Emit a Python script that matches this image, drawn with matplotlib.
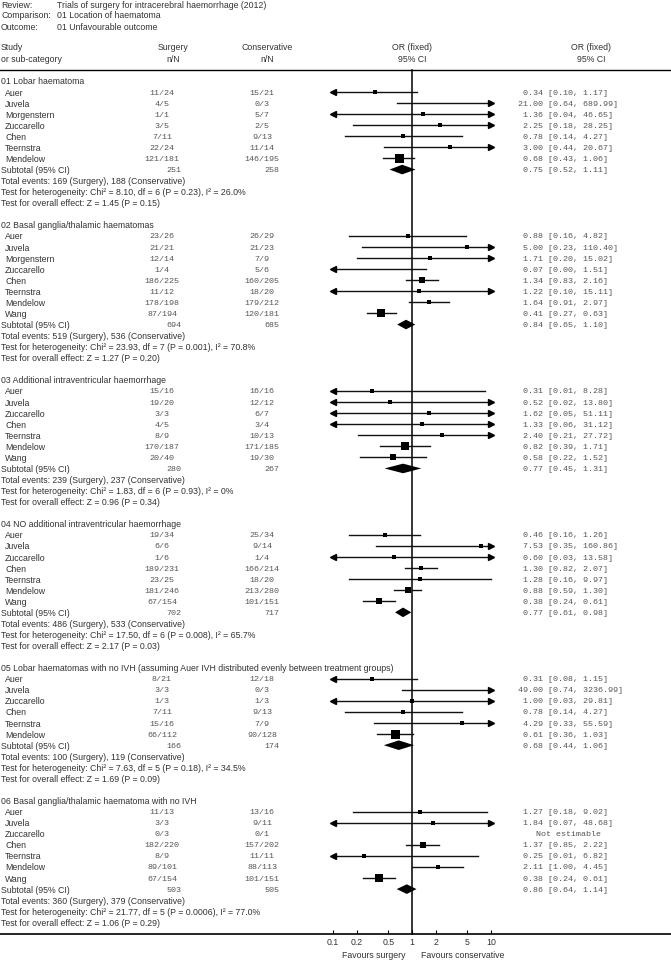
import numpy as np
import matplotlib.pyplot as plt
from matplotlib.patches import Polygon

# ---- data ----
group_titles = [
    "01 Lobar haematoma",
    "02 Basal ganglia/thalamic haematomas",
    "03 Additional intraventricular haemorrhage",
    "04 NO additional intraventricular haemorrhage",
    "05 Lobar haematomas with no IVH (assuming Auer IVH distributed evenly between treatment groups)",
    "06 Basal ganglia/thalamic haematoma with no IVH",
]

studies = [
    ["Auer", "Juvela", "Morgenstern", "Zuccarello", "Chen", "Teernstra", "Mendelow"],
    ["Auer", "Juvela", "Morgenstern", "Zuccarello", "Chen", "Teernstra", "Mendelow", "Wang"],
    ["Auer", "Juvela", "Zuccarello", "Chen", "Teernstra", "Mendelow", "Wang"],
    ["Auer", "Juvela", "Zuccarello", "Chen", "Teernstra", "Mendelow", "Wang"],
    ["Auer", "Juvela", "Zuccarello", "Chen", "Teernstra", "Mendelow"],
    ["Auer", "Juvela", "Zuccarello", "Chen", "Teernstra", "Mendelow", "Wang"],
]

surg_events = [
    [11, 4, 1, 3, 7, 22, 121],
    [23, 21, 12, 1, 186, 11, 178, 87],
    [15, 19, 3, 4, 8, 170, 20],
    [19, 6, 1, 189, 23, 181, 67],
    [8, 3, 1, 7, 15, 66],
    [11, 3, 0, 182, 8, 89, 67],
]
surg_total = [
    [24, 5, 1, 5, 11, 24, 181],
    [26, 21, 14, 4, 225, 12, 198, 194],
    [16, 20, 3, 5, 9, 187, 40],
    [34, 6, 6, 231, 25, 246, 154],
    [21, 3, 3, 11, 16, 112],
    [13, 3, 3, 220, 9, 101, 154],
]
cons_events = [
    [15, 0, 5, 2, 9, 11, 146],
    [26, 21, 7, 5, 160, 18, 179, 120],
    [16, 12, 6, 3, 10, 171, 19],
    [25, 9, 1, 166, 18, 213, 101],
    [12, 0, 1, 9, 7, 90],
    [13, 9, 0, 157, 11, 88, 101],
]
cons_total = [
    [21, 3, 7, 5, 13, 14, 195],
    [29, 23, 9, 6, 205, 20, 212, 181],
    [16, 12, 7, 4, 13, 185, 30],
    [34, 14, 4, 214, 20, 280, 151],
    [18, 3, 3, 13, 9, 128],
    [16, 11, 1, 202, 11, 113, 151],
]

odds = [
    [0.34, 21.00, 1.36, 2.25, 0.78, 3.00, 0.68],
    [0.88, 5.00, 1.71, 0.07, 1.34, 1.22, 1.64, 0.41],
    [0.31, 0.52, 1.62, 1.33, 2.40, 0.82, 0.58],
    [0.46, 7.53, 0.60, 1.30, 1.28, 0.88, 0.38],
    [0.31, 49.00, 1.00, 0.78, 4.29, 0.61],
    [1.27, 1.84, None, 1.37, 0.25, 2.11, 0.38],
]
ci_low = [
    [0.10, 0.64, 0.04, 0.18, 0.14, 0.44, 0.43],
    [0.16, 0.23, 0.20, 0.00, 0.83, 0.10, 0.91, 0.27],
    [0.01, 0.02, 0.05, 0.06, 0.21, 0.39, 0.22],
    [0.16, 0.35, 0.03, 0.82, 0.16, 0.59, 0.24],
    [0.08, 0.74, 0.03, 0.14, 0.33, 0.36],
    [0.18, 0.07, None, 0.85, 0.01, 1.00, 0.24],
]
ci_high = [
    [1.17, 689.99, 46.65, 28.25, 4.27, 20.67, 1.06],
    [4.82, 110.40, 15.02, 1.51, 2.16, 15.11, 2.97, 0.63],
    [8.28, 13.80, 51.11, 31.12, 27.72, 1.71, 1.52],
    [1.26, 160.86, 13.58, 2.07, 9.97, 1.30, 0.61],
    [1.15, 3236.99, 29.81, 4.27, 55.59, 1.03],
    [9.02, 48.68, None, 2.22, 6.82, 4.45, 0.61],
]

sub_surg_n = [251, 694, 280, 702, 166, 503]
sub_cons_n = [258, 685, 267, 717, 174, 505]
sub_or = [0.75, 0.84, 0.77, 0.77, 0.68, 0.86]
sub_low = [0.52, 0.65, 0.45, 0.61, 0.44, 0.64]
sub_high = [1.11, 1.10, 1.31, 0.98, 1.06, 1.14]
tot_surg_events = [169, 519, 239, 486, 100, 360]
tot_cons_events = [188, 536, 237, 533, 119, 379]
het_text = [
    "Chi\u00b2 = 8.10, df = 6 (P = 0.23), I\u00b2 = 26.0%",
    "Chi\u00b2 = 23.93, df = 7 (P = 0.001), I\u00b2 = 70.8%",
    "Chi\u00b2 = 1.83, df = 6 (P = 0.93), I\u00b2 = 0%",
    "Chi\u00b2 = 17.50, df = 6 (P = 0.008), I\u00b2 = 65.7%",
    "Chi\u00b2 = 7.63, df = 5 (P = 0.18), I\u00b2 = 34.5%",
    "Chi\u00b2 = 21.77, df = 5 (P = 0.0006), I\u00b2 = 77.0%",
]
z_text = [
    "Z = 1.45 (P = 0.15)",
    "Z = 1.27 (P = 0.20)",
    "Z = 0.96 (P = 0.34)",
    "Z = 2.17 (P = 0.03)",
    "Z = 1.69 (P = 0.09)",
    "Z = 1.06 (P = 0.29)",
]

axis_ticks = [0.1, 0.2, 0.5, 1, 2, 5, 10]
axis_ticklabels = ["0.1", "0.2", "0.5", "1", "2", "5", "10"]

# ---- layout (pixels) ----
W, H = 671, 962
SANS = "Liberation Sans"
MONO = "Liberation Mono"
fs = 6.3
fsm = 6.0
txt = "#333333"
mono_col = "#555555"
row_h = 11.07
y0 = 82
line_top = 71
axis_y = 935
x_lo_px, x_hi_px = 333, 491

fig = plt.figure(figsize=(W / 100, H / 100), dpi=100)
ax = fig.add_axes([0, 0, 1, 1])
ax.set_xlim(0, W)
ax.set_ylim(H, 0)
ax.axis("off")

axf = fig.add_axes([x_lo_px / W, (H - axis_y) / H, (x_hi_px - x_lo_px) / W, axis_y / H])
axf.set_xscale("log")
axf.set_xlim(0.1, 10)
axf.set_ylim(axis_y, 0)
axf.patch.set_alpha(0)
for s in ["top", "left", "right", "bottom"]:
    axf.spines[s].set_visible(False)
axf.set_yticks([])
axf.set_xticks(axis_ticks)
axf.set_xticklabels(axis_ticklabels, fontsize=fs, family=SANS, color=txt)
axf.xaxis.set_minor_locator(plt.NullLocator())
axf.tick_params(axis="x", direction="in", length=3, width=0.8, pad=2, color="black")

# header block
hdr = [("Review:", "Trials of surgery for intracerebral haemorrhage (2012)"),
       ("Comparison:", "01 Location of haematoma"),
       ("Outcome:", "01 Unfavourable outcome")]
for i, (k, v) in enumerate(hdr):
    yy = 5 + 11 * i
    ax.text(1, yy, k, fontsize=fs, family=SANS, color=txt, va="center")
    ax.text(57, yy, v, fontsize=fs, family=SANS, color=txt, va="center")

for yy, cols in [(48, ["Study", "Surgery", "Conservative", "OR (fixed)", "OR (fixed)"]),
                 (60, ["or sub-category", "n/N", "n/N", "95% CI", "95% CI"])]:
    ax.text(1, yy, cols[0], fontsize=fs, family=SANS, color=txt, va="center")
    ax.text(173, yy, cols[1], fontsize=fs, family=SANS, color=txt, va="center", ha="center")
    ax.text(267, yy, cols[2], fontsize=fs, family=SANS, color=txt, va="center", ha="center")
    ax.text(412, yy, cols[3], fontsize=fs, family=SANS, color=txt, va="center", ha="center")
    ax.text(591, yy, cols[4], fontsize=fs, family=SANS, color=txt, va="center", ha="center")

ax.plot([0, W], [line_top, line_top], color="black", lw=1.0)
ax.plot([0, W], [axis_y, axis_y], color="black", lw=1.2)
axf.plot([1, 1], [line_top, axis_y], color="black", lw=1.1, clip_on=False)

ax.text(406, 956, "Favours surgery", fontsize=fs, family=SANS, color=txt, va="center", ha="right")
ax.text(421, 956, "Favours conservative", fontsize=fs, family=SANS, color=txt, va="center", ha="left")


def mh_weight(a, n1, c, n2):
    b, d = n1 - a, n2 - c
    if 0 in (a, b, c, d):
        a, b, c, d = a + 0.5, b + 0.5, c + 0.5, d + 0.5
    return b * c / (a + b + c + d)


k = 0
for g, title in enumerate(group_titles):
    ax.text(1, y0 + k * row_h, title, fontsize=fs, family=SANS, color=txt, va="center")
    k += 1
    w = []
    for i in range(len(studies[g])):
        if odds[g][i] is None:
            w.append(0.0)
        else:
            w.append(mh_weight(surg_events[g][i], surg_total[g][i], cons_events[g][i], cons_total[g][i]))
    w = np.array(w)
    wpct = 100 * w / w.sum()

    for i, name in enumerate(studies[g]):
        yy = y0 + k * row_h
        ax.text(5, yy, name, fontsize=fs, family=SANS, color=txt, va="center")
        ax.text(162, yy, f"{surg_events[g][i]}/{surg_total[g][i]}", fontsize=fsm, family=MONO,
                color=mono_col, va="center", ha="center")
        ax.text(262, yy, f"{cons_events[g][i]}/{cons_total[g][i]}", fontsize=fsm, family=MONO,
                color=mono_col, va="center", ha="center")
        o, lo, hi = odds[g][i], ci_low[g][i], ci_high[g][i]
        if o is None:
            ax.text(568, yy, "Not estimable", fontsize=fsm, family=MONO, color=mono_col,
                    va="center", ha="center")
            k += 1
            continue
        ax.text(518, yy, f"{o:5.2f} [{lo:.2f}, {hi:.2f}]", fontsize=fsm, family=MONO,
                color=mono_col, va="center", ha="left")
        x1, x2 = max(lo, 0.1), min(hi, 10)
        axf.plot([x1, x2], [yy, yy], color="#111111", lw=1.0, clip_on=False)
        if lo <= 0.1:
            axf.plot([0.1], [yy], marker="<", ms=4.4, color="black", clip_on=False)
        if hi >= 10:
            axf.plot([10], [yy], marker=">", ms=4.4, color="black", clip_on=False)
        if 0.1 <= o <= 10:
            side = min(max(3.4, 1.05 * np.sqrt(wpct[i])), 9.0)
            axf.plot([o], [yy], marker="s", ms=side * 0.72, color="black", mec="black",
                     mew=0, clip_on=False)
        k += 1

    # subtotal
    yy = y0 + k * row_h
    ax.text(1, yy, "Subtotal (95% CI)", fontsize=fs, family=SANS, color=txt, va="center")
    ax.text(174, yy, str(sub_surg_n[g]), fontsize=fsm, family=MONO, color=mono_col,
            va="center", ha="center")
    ax.text(272, yy, str(sub_cons_n[g]), fontsize=fsm, family=MONO, color=mono_col,
            va="center", ha="center")
    ax.text(518, yy, f"{sub_or[g]:5.2f} [{sub_low[g]:.2f}, {sub_high[g]:.2f}]", fontsize=fsm,
            family=MONO, color=mono_col, va="center", ha="left")
    dh = 4.8
    axf.add_patch(Polygon([(sub_low[g], yy), (sub_or[g], yy - dh), (sub_high[g], yy),
                           (sub_or[g], yy + dh)], closed=True, color="black", lw=0))
    k += 1
    ax.text(1, y0 + k * row_h,
            f"Total events: {tot_surg_events[g]} (Surgery), {tot_cons_events[g]} (Conservative)",
            fontsize=fs, family=SANS, color=txt, va="center")
    k += 1
    ax.text(1, y0 + k * row_h, "Test for heterogeneity: " + het_text[g], fontsize=fs,
            family=SANS, color=txt, va="center")
    k += 1
    ax.text(1, y0 + k * row_h, "Test for overall effect: " + z_text[g], fontsize=fs,
            family=SANS, color=txt, va="center")
    k += 2

fig.savefig("out.png", dpi=100)
